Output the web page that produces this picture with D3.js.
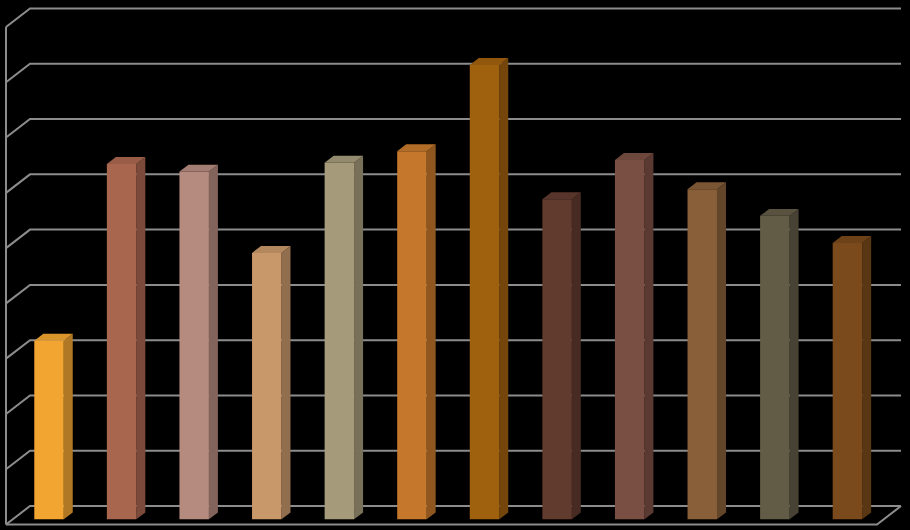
<!DOCTYPE html>
<html>
<head>
<meta charset="utf-8">
<script src="https://cdn.jsdelivr.net/npm/d3@7"></script>
<style>
html,body{margin:0;padding:0;background:#000;}
svg{display:block;}
</style>
</head>
<body>
<svg id="chart" width="910" height="530"></svg>
<script>
const categories = ["1","2","3","4","5","6","7","8","9","10","11","12"];
const values = [3.23, 6.43, 6.29, 4.82, 6.45, 6.66, 8.22, 5.79, 6.50, 5.97, 5.49, 5.00];
const colors = ["#F3A531","#A9664F","#B58A7F","#C8976A","#A59A79","#C5782B","#A0610F","#623B2F","#7A4F43","#885F39","#625B46","#7A4A1C"];
const tickValues = [0,1,2,3,4,5,6,7,8,9];

const W = 910, H = 530;
const svg = d3.select("#chart");
svg.append("rect").attr("width", W).attr("height", H).attr("fill", "#000");

// 3D projection: z in [0,1] from front to back
const DX = 24, DY = 18.5;
const x = d3.scaleBand().domain(categories).range([6, 877]).paddingInner(0.594).paddingOuter(0.297);
const y = d3.scaleLinear().domain([0, 9]).range([524.5, 27]);
const P = (px, py, z) => [px + DX * z, py - DY * z];

const gridColor = "#8c8c8c";
const g = svg.append("g").attr("fill", "none").attr("stroke", gridColor).attr("stroke-width", 2);

// gridlines: back wall horizontal + left wall diagonal
tickValues.forEach(t => {
  const a = P(6, y(t), 0), b = P(6, y(t), 1), c = P(877, y(t), 1);
  g.append("path").attr("d", d3.line()([a, b, c]));
});
// left wall front vertical edge
g.append("line").attr("x1", 6).attr("x2", 6).attr("y1", y(9)).attr("y2", y(0));
// floor front edge and right edge
const f1 = P(6, y(0), 0), f2 = P(877, y(0), 0), f3 = P(877, y(0), 1);
g.append("path").attr("d", d3.line()([f1, f2, f3]));

// bars
const z0 = 0.28, z1 = 0.655;
const bars = svg.append("g");
categories.forEach((cat, i) => {
  const v = values[i];
  const col = d3.color(colors[i]);
  const xl = x(cat), xr = xl + x.bandwidth();
  const yb = y(0), yt = y(v);
  const fl_t = P(xl, yt, z0), fr_t = P(xr, yt, z0), fr_b = P(xr, yb, z0), fl_b = P(xl, yb, z0);
  const bl_t = P(xl, yt, z1), br_t = P(xr, yt, z1), br_b = P(xr, yb, z1);
  // side face
  bars.append("path").attr("d", d3.line()([fr_t, br_t, br_b, fr_b]) + "Z")
    .attr("fill", col.darker(0.9));
  // top face
  bars.append("path").attr("d", d3.line()([fl_t, bl_t, br_t, fr_t]) + "Z")
    .attr("fill", col.darker(0.3));
  // front face
  bars.append("path").attr("d", d3.line()([fl_t, fr_t, fr_b, fl_b]) + "Z")
    .attr("fill", col.formatHex());
});
</script>
</body>
</html>
